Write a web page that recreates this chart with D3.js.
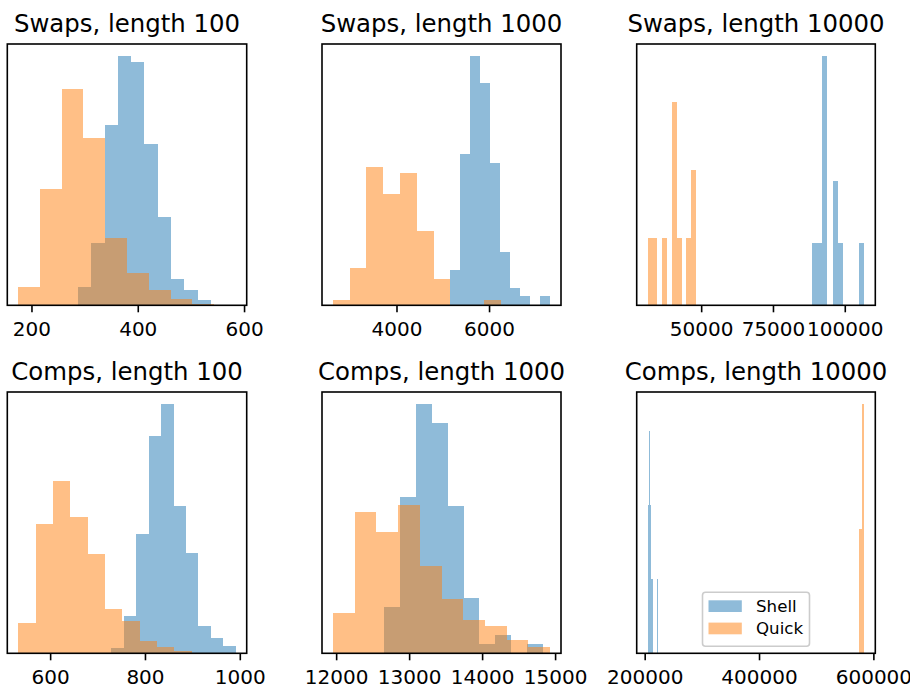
<!DOCTYPE html>
<html><head><meta charset="utf-8">
<script src="https://cdn.jsdelivr.net/npm/d3@7"></script>
<style>
body{margin:0;background:#fff}
text{font-family:"DejaVu Sans",sans-serif;fill:#000}
</style></head>
<body><svg id="chart" width="910" height="689"></svg>
<script>
// ---------------- data (10 bins per series, counts per bin, bin range) ----------------
const titles = ["Swaps, length 100","Swaps, length 1000","Swaps, length 10000",
                "Comps, length 100","Comps, length 1000","Comps, length 10000"];
const seriesNames = ["Shell","Quick"];

const swaps100Shell = [17,59,172,237,232,154,84,25,15,5];
const swaps100ShellRange = [287.5,537.5];
const swaps100Quick = [28,181,337,261,105,51,24,10,2,1];
const swaps100QuickRange = [175,584.5];
const swaps100Ticks = [200,400,600];

const swaps1000Shell = [4,17,28,25,16,6,2,1,0,1];
const swaps1000ShellRange = [5151,7320];
const swaps1000Quick = [1,7,26,21,25,14,5,0,0,1];
const swaps1000QuickRange = [2625,6255];
const swaps1000Ticks = [4000,6000];

const swaps10000Shell = [1,1,4,0,2,1,0,0,0,1];
const swaps10000ShellRange = [88427,106853];
const swaps10000Quick = [1,1,0,1,0,3,1,0,1,2];
const swaps10000QuickRange = [31329,48252];
const swaps10000Ticks = [50000,75000,100000];

const comps100Shell = [6,40,129,235,269,159,108,30,16,8];
const comps100ShellRange = [729.1,991.6];
const comps100Quick = [46,195,259,205,149,66,48,19,9,4];
const comps100QuickRange = [532.6,898.2];
const comps100Ticks = [600,800,1000];

const comps1000Shell = [5,17,27,25,16,6,1,2,0,1];
const comps1000ShellRange = [12659,14832];
const comps1000Quick = [6,21,18,22,13,8,5,4,2,1];
const comps1000QuickRange = [11955,14932];
const comps1000Ticks = [12000,13000,14000,15000];

const comps10000Shell = [2,3,2,1,1,0,0,0,0,1];
const comps10000ShellRange = [205000,222460];
const comps10000Quick = [1,1,0,1,0,1,2,0,2,2];
const comps10000QuickRange = [574000,584400];
const comps10000Ticks = [200000,400000,600000];

// ---------------- build panels ----------------
const panelData = [
  {shell:swaps100Shell, shellR:swaps100ShellRange, quick:swaps100Quick, quickR:swaps100QuickRange, ticks:swaps100Ticks},
  {shell:swaps1000Shell, shellR:swaps1000ShellRange, quick:swaps1000Quick, quickR:swaps1000QuickRange, ticks:swaps1000Ticks},
  {shell:swaps10000Shell, shellR:swaps10000ShellRange, quick:swaps10000Quick, quickR:swaps10000QuickRange, ticks:swaps10000Ticks},
  {shell:comps100Shell, shellR:comps100ShellRange, quick:comps100Quick, quickR:comps100QuickRange, ticks:comps100Ticks},
  {shell:comps1000Shell, shellR:comps1000ShellRange, quick:comps1000Quick, quickR:comps1000QuickRange, ticks:comps1000Ticks},
  {shell:comps10000Shell, shellR:comps10000ShellRange, quick:comps10000Quick, quickR:comps10000QuickRange, ticks:comps10000Ticks}
];

// layout
const colX = [[7.3,246.7],[322,561],[636.7,875.3]];
const rowY = [[44,305.3],[392,653.3]];
const colors = {Shell:"#1f77b4", Quick:"#ff7f0e"};

function bins(counts, range){
  const n = counts.length, total = d3.sum(counts), w = (range[1]-range[0])/n;
  return counts.map((c,i)=>({x0:range[0]+i*w, x1:range[0]+(i+1)*w, d:c/(total*w)}));
}

const svg = d3.select("#chart");

panelData.forEach((p,idx)=>{
  const [l,r] = colX[idx%3];
  const [t,b] = rowY[Math.floor(idx/3)];
  const g = svg.append("g");
  const sb = bins(p.shell,p.shellR), qb = bins(p.quick,p.quickR);
  const lo = Math.min(p.shellR[0],p.quickR[0]), hi = Math.max(p.shellR[1],p.quickR[1]);
  const pad = 0.05*(hi-lo);
  const x = d3.scaleLinear().domain([lo-pad, hi+pad]).range([l,r]);
  const ymax = d3.max(sb.concat(qb), d=>d.d)*1.05;
  const y = d3.scaleLinear().domain([0,ymax]).range([b,t]);
  const R = Math.round;

  [["Shell",sb],["Quick",qb]].forEach(([name,bs])=>{
    g.append("g").attr("shape-rendering","crispEdges")
      .selectAll("rect").data(bs.filter(d=>d.d>0 && R(x(d.x1))>R(x(d.x0)))).join("rect")
      .attr("x",d=>R(x(d.x0))).attr("width",d=>R(x(d.x1))-R(x(d.x0)))
      .attr("y",d=>R(y(d.d))).attr("height",d=>R(y(0))-R(y(d.d)))
      .attr("fill",colors[name]).attr("fill-opacity",0.5);
  });

  // frame
  g.append("rect").attr("x",l).attr("y",t).attr("width",r-l).attr("height",b-t)
    .attr("fill","none").attr("stroke","#000").attr("stroke-width",1.6);

  // x axis
  const ax = g.append("g").attr("transform",`translate(0,${b})`)
    .call(d3.axisBottom(x).tickValues(p.ticks).tickSize(7).tickPadding(9.8).tickFormat(d3.format("d")));
  ax.select(".domain").remove();
  ax.selectAll(".tick line").attr("stroke","#000").attr("stroke-width",1.6);
  ax.selectAll(".tick text").attr("font-size",20).attr("font-family","DejaVu Sans").attr("fill","#000");

  // title
  g.append("text").attr("x",(l+r)/2).attr("y",t-12.5).attr("text-anchor","middle")
    .attr("font-size",24.4).text(titles[idx]);

  // legend in last panel
  if(idx===5){
    const fs = 16.67, bw = 107, bh = 54;
    const bx = (l+r)/2 - bw/2, by = b - 7 - bh;
    const lg = g.append("g");
    lg.append("rect").attr("x",bx).attr("y",by).attr("width",bw).attr("height",bh)
      .attr("rx",3).attr("fill","#fff").attr("fill-opacity",0.8)
      .attr("stroke","#cccccc").attr("stroke-width",1.6);
    seriesNames.forEach((name,i)=>{
      const yy = by + 8 + i*22.3;
      lg.append("rect").attr("x",bx+6).attr("y",yy).attr("width",33.3).attr("height",11.7)
        .attr("fill",colors[name]).attr("fill-opacity",0.5);
      lg.append("text").attr("x",bx+53.5).attr("y",yy+11.7).attr("font-size",fs).text(name);
    });
  }
});
</script>
</body></html>
